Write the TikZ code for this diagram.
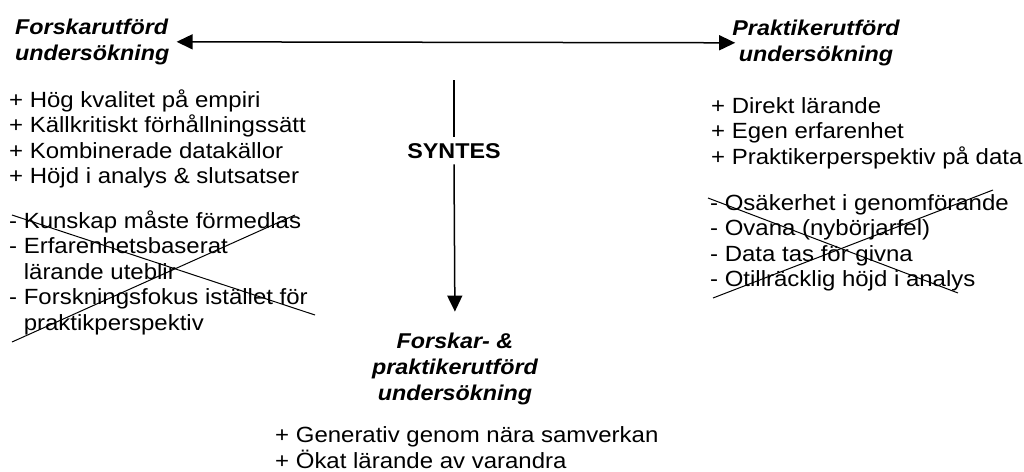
\documentclass[tikz,border=0pt]{standalone}
\usepackage{fontspec}
\setmainfont{Liberation Sans}[FakeStretch=1.09]
\usetikzlibrary{arrows.meta}
\begin{document}
\begin{tikzpicture}[x=1pt,y=-1pt,
  txt/.style={inner sep=0pt, anchor=base west, font=\fontsize{22}{25.6}\selectfont},
  ttl/.style={inner sep=0pt, font=\fontsize{21.4}{26}\selectfont\bfseries\itshape},
  arr/.style={line width=1.5pt, -{Triangle[length=16pt,width=15pt]}},
  darr/.style={line width=1.5pt, {Triangle[length=16pt,width=15pt]}-{Triangle[length=16pt,width=15pt]}},
  strike/.style={line width=1pt}]
\useasboundingbox (0,0) rectangle (1024,471);
\fill[white] (0,0) rectangle (1024,471);

\node[ttl, anchor=base west] (fr) at (15,34) {\begin{tabular}[t]{@{}l@{}}Forskarutförd\\undersökning\end{tabular}};
\node[ttl, anchor=base] (pr) at (816,35) {\begin{tabular}[t]{@{}c@{}}Praktikerutförd\\undersökning\end{tabular}};
\draw[darr, shorten <=7pt, shorten >=-3pt] (fr.east) -- (pr.west);

\node[txt] (lp) at (9,107) {\begin{tabular}[t]{@{}l@{}}+ Hög kvalitet på empiri\\+ Källkritiskt förhållningssätt\\+ Kombinerade datakällor\\+ Höjd i analys \& slutsatser\end{tabular}};
\node[txt] (lm) at (9,228) {\begin{tabular}[t]{@{}l@{}}- Kunskap måste förmedlas\\- Erfarenhetsbaserat\\\hphantom{- }lärande uteblir\\- Forskningsfokus istället för\\\hphantom{- }praktikperspektiv\end{tabular}};

\node[txt] (rp) at (711,113) {\begin{tabular}[t]{@{}l@{}}+ Direkt lärande\\+ Egen erfarenhet\\+ Praktikerperspektiv på data\end{tabular}};
\node[txt] (rm) at (710,210) {\begin{tabular}[t]{@{}l@{}}- Osäkerhet i genomförande\\- Ovana (nybörjarfel)\\- Data tas för givna\\- Otillräcklig höjd i analys\end{tabular}};

\coordinate (vtop) at (454,80);
\node[inner sep=6pt, anchor=base, font=\fontsize{21.4}{26}\selectfont\bfseries] (syn) at (454,158) {SYNTES};
\node[ttl, anchor=base] (bt) at (455,348) {\begin{tabular}[t]{@{}c@{}}Forskar- \&\\praktikerutförd\\undersökning\end{tabular}};
\draw[line width=1.5pt] (vtop) -- (syn.north);
\draw[arr, shorten >=18pt] (syn.south) -- (bt.north);

\node[txt] (bp) at (275,442) {\begin{tabular}[t]{@{}l@{}}+ Generativ genom nära samverkan\\+ Ökat lärande av varandra\end{tabular}};

\draw[strike] (12,215) -- (315,315);
\draw[strike] (12,342) -- (295,215);
\draw[strike] (708,198) -- (958,293);
\draw[strike] (713,298) -- (993,190);
\end{tikzpicture}
\end{document}
